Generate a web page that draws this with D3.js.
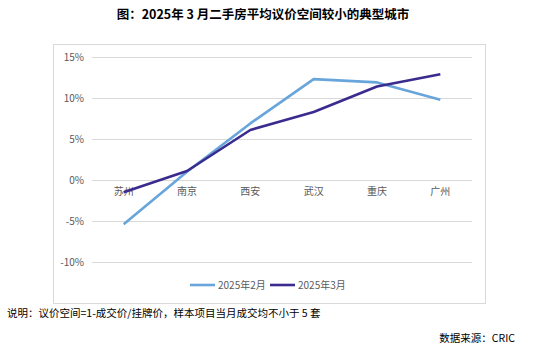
<!DOCTYPE html>
<html><head><meta charset="utf-8">
<script src="https://cdn.jsdelivr.net/npm/d3@7"></script>
<style>body{margin:0;background:#fff;}svg{display:block;}</style>
</head><body>
<svg id="c" width="537" height="356"></svg>
<script>
const categories = ["苏州","南京","西安","武汉","重庆","广州"];
const feb = [-5.4, 1.0, 6.9, 12.3, 11.9, 9.8];
const mar = [-1.5, 1.1, 6.1, 8.3, 11.4, 12.9];
const seriesNames = ["2025年2月","2025年3月"];
const yTicks = [-10,-5,0,5,10,15];
const colors = ["#67a5db","#3a2b8f"];

const svg = d3.select("#c");
const font = "'Microsoft YaHei','Noto Sans CJK SC',sans-serif";

svg.append("text").attr("x",263).attr("y",19).attr("text-anchor","middle")
  .attr("font-family",font).attr("font-weight","bold").attr("font-size",12.5).attr("fill","#000")
  .text("图：2025年 3 月二手房平均议价空间较小的典型城市");

svg.append("rect").attr("x",53.5).attr("y",44.5).attr("width",432).attr("height",259)
  .attr("fill","none").attr("stroke","#d9d9d9");

const x = d3.scaleBand().domain(categories).range([92,472]);
const y = d3.scaleLinear().domain([-10,15]).range([262,57]);

const gy = svg.append("g").attr("transform","translate(92,0)")
  .call(d3.axisLeft(y).tickValues(yTicks).tickSize(-380).tickFormat(d=>d+"%").tickPadding(8));
gy.select(".domain").remove();
gy.selectAll("line").attr("stroke","#d9d9d9");
gy.selectAll("text").attr("font-family",font).attr("font-size",10).attr("fill","#595959");

const gx = svg.append("g").attr("transform",`translate(0,${y(0)})`)
  .call(d3.axisBottom(x).tickSize(0).tickPadding(8));
gx.select(".domain").remove();
gx.selectAll("text").attr("font-family",font).attr("font-size",10).attr("fill","#595959");

const line = d3.line().x((d,i)=>x(categories[i])+x.bandwidth()/2).y(d=>y(d));
[feb,mar].forEach((s,k)=>{
  svg.append("path").datum(s).attr("d",line).attr("fill","none")
    .attr("stroke",colors[k]).attr("stroke-width",2.6).attr("stroke-linejoin","round");
});

const lg = [[190,218],[270,298]];
seriesNames.forEach((n,k)=>{
  svg.append("line").attr("x1",lg[k][0]).attr("x2",lg[k][0]+25).attr("y1",285).attr("y2",285)
    .attr("stroke",colors[k]).attr("stroke-width",2.6);
  svg.append("text").attr("x",lg[k][1]).attr("y",289).attr("font-family",font).attr("font-size",10)
    .attr("fill","#595959").text(n);
});

svg.append("text").attr("x",7).attr("y",317).attr("font-family",font).attr("font-size",10.5).attr("fill","#000")
  .text("说明：议价空间=1-成交价/挂牌价，样本项目当月成交均不小于 5 套");
svg.append("text").attr("x",515).attr("y",342).attr("text-anchor","end").attr("font-family",font).attr("font-size",10.5).attr("fill","#000")
  .text("数据来源：CRIC");
</script>
</body></html>
